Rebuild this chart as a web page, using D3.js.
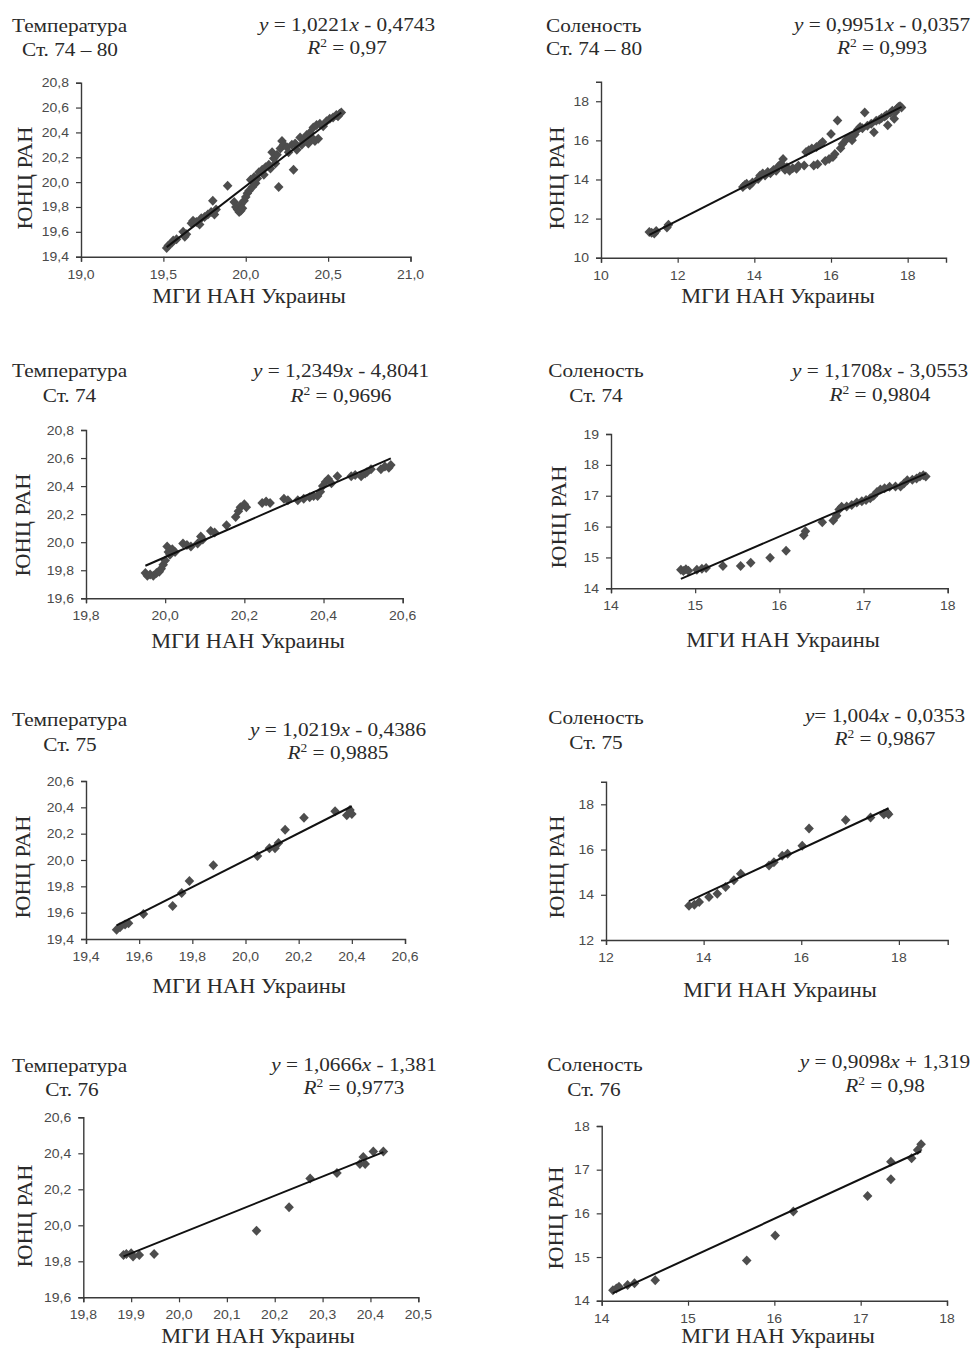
<!DOCTYPE html>
<html><head><meta charset="utf-8">
<script src="https://cdn.jsdelivr.net/npm/d3@7"></script>
<style>
html,body{margin:0;padding:0;background:#fff;}
svg{display:block;}
</style></head>
<body>
<svg id="c" width="973" height="1349"></svg>
<script>
// ---------------- DATA ----------------
const panelTitles = ["Температура","Соленость","Температура","Соленость","Температура","Соленость","Температура","Соленость"];
const stationLabels = ["Ст. 74 – 80","Ст. 74 – 80","Ст. 74","Ст. 74","Ст. 75","Ст. 75","Ст. 76","Ст. 76"];
const xAxisTitle = "МГИ НАН Украины";
const yAxisTitle = "ЮНЦ РАН";
const slopes = [1.0221, 0.9951, 1.2349, 1.1708, 1.0219, 1.004, 1.0666, 0.9098];
const intercepts = [-0.4743, -0.0357, -4.8041, -3.0553, -0.4386, -0.0353, -1.381, 1.319];
const rSquared = ["0,97","0,993","0,9696","0,9804","0,9885","0,9867","0,9773","0,98"];
const eqSpacing = [" = "," = "," = "," = "," = ","= "," = "," = "];

const xDomains = [[19,21],[10,19],[19.8,20.6],[14,18],[19.4,20.6],[12,19],[19.8,20.5],[14,18]];
const yDomains = [[19.4,20.8],[10,19],[19.6,20.8],[14,19],[19.4,20.6],[12,19],[19.6,20.6],[14,18]];
const xTicks = [
  [19.0,19.5,20.0,20.5,21.0],[10,12,14,16,18],[19.8,20.0,20.2,20.4,20.6],[14,15,16,17,18],
  [19.4,19.6,19.8,20.0,20.2,20.4,20.6],[12,14,16,18],[19.8,19.9,20.0,20.1,20.2,20.3,20.4,20.5],[14,15,16,17,18]];
const yTicks = [
  [19.4,19.6,19.8,20.0,20.2,20.4,20.6,20.8],[10,12,14,16,18],[19.6,19.8,20.0,20.2,20.4,20.6,20.8],[14,15,16,17,18,19],
  [19.4,19.6,19.8,20.0,20.2,20.4,20.6],[12,14,16,18],[19.6,19.8,20.0,20.2,20.4,20.6],[14,15,16,17,18]];
const tickDecimals = [1,0,1,0,1,0,1,0];

// scatter points [MGI, YuNTs]
const temp7480 = [[19.52,19.47],[19.53,19.49],[19.55,19.51],[19.56,19.53],[19.58,19.54],[19.62,19.60],[19.63,19.56],[19.64,19.58],[19.67,19.67],[19.68,19.69],[19.70,19.68],[19.72,19.66],[19.73,19.71],[19.75,19.72],[19.77,19.74],[19.79,19.76],[19.80,19.85],[19.81,19.74],[19.82,19.78],[19.89,19.97],[19.93,19.84],[19.94,19.80],[19.95,19.78],[19.96,19.76],[19.97,19.77],[19.97,19.82],[19.98,19.79],[19.99,19.85],[20.00,19.88],[20.01,19.91],[20.02,19.93],[20.03,20.02],[20.04,19.96],[20.05,20.04],[20.06,19.99],[20.07,20.03],[20.08,20.08],[20.10,20.10],[20.11,20.06],[20.12,20.12],[20.14,20.14],[20.15,20.11],[20.16,20.24],[20.17,20.19],[20.18,20.15],[20.19,20.22],[20.20,19.96],[20.21,20.27],[20.22,20.33],[20.23,20.30],[20.25,20.28],[20.26,20.24],[20.28,20.30],[20.29,20.10],[20.30,20.31],[20.31,20.26],[20.33,20.36],[20.34,20.30],[20.35,20.34],[20.37,20.38],[20.38,20.31],[20.39,20.40],[20.40,20.36],[20.41,20.44],[20.42,20.33],[20.43,20.46],[20.44,20.35],[20.45,20.47],[20.47,20.45],[20.49,20.49],[20.51,20.51],[20.53,20.52],[20.55,20.54],[20.56,20.53],[20.57,20.55],[20.58,20.56]];
const sal7480 = [[11.26,11.32],[11.32,11.28],[11.39,11.24],[11.44,11.36],[11.72,11.55],[11.76,11.68],[13.70,13.62],[13.75,13.72],[13.80,13.78],[13.88,13.70],[13.95,13.84],[14.10,14.02],[14.15,14.20],[14.22,14.30],[14.28,14.20],[14.35,14.38],[14.42,14.32],[14.50,14.48],[14.57,14.44],[14.63,14.68],[14.70,14.80],[14.75,15.05],[14.80,14.50],[14.85,14.62],[14.92,14.45],[15.00,14.58],[15.10,14.55],[15.15,14.70],[15.30,14.72],[15.35,15.40],[15.42,15.50],[15.50,15.58],[15.55,14.72],[15.62,15.66],[15.65,14.78],[15.72,15.80],[15.78,15.92],[15.85,14.95],[15.95,15.05],[16.00,16.33],[16.05,15.15],[16.10,15.30],[16.17,17.01],[16.25,15.60],[16.30,15.82],[16.40,16.05],[16.48,16.16],[16.55,16.00],[16.62,16.30],[16.70,16.55],[16.76,16.68],[16.82,16.62],[16.88,17.43],[16.95,16.75],[17.05,16.85],[17.12,16.42],[17.18,17.00],[17.26,17.05],[17.32,17.15],[17.40,17.22],[17.45,17.30],[17.48,16.77],[17.55,17.40],[17.60,17.52],[17.65,17.10],[17.68,17.45],[17.72,17.62],[17.76,17.70],[17.80,17.74],[17.84,17.68]];
const temp74 = [[19.950,19.78],[19.955,19.76],[19.962,19.77],[19.970,19.76],[19.978,19.78],[19.985,19.79],[19.990,19.81],[19.995,19.84],[20.000,19.87],[20.005,19.97],[20.008,19.93],[20.012,19.91],[20.018,19.95],[20.025,19.93],[20.045,19.99],[20.055,19.98],[20.065,19.97],[20.082,19.99],[20.090,20.04],[20.095,20.02],[20.115,20.08],[20.125,20.07],[20.155,20.12],[20.178,20.18],[20.185,20.22],[20.190,20.25],[20.200,20.27],[20.205,20.25],[20.245,20.28],[20.255,20.29],[20.265,20.28],[20.300,20.31],[20.310,20.30],[20.335,20.30],[20.350,20.31],[20.365,20.32],[20.375,20.33],[20.385,20.33],[20.392,20.36],[20.398,20.40],[20.405,20.43],[20.412,20.45],[20.420,20.42],[20.435,20.47],[20.470,20.47],[20.480,20.48],[20.495,20.47],[20.505,20.49],[20.510,20.50],[20.520,20.52],[20.545,20.52],[20.555,20.54],[20.565,20.53],[20.570,20.55]];
const sal74 = [[14.83,14.60],[14.86,14.56],[14.89,14.62],[14.92,14.57],[15.02,14.60],[15.08,14.63],[15.13,14.66],[15.33,14.72],[15.54,14.72],[15.66,14.83],[15.89,14.99],[16.08,15.22],[16.29,15.72],[16.31,15.85],[16.51,16.14],[16.64,16.20],[16.68,16.35],[16.71,16.55],[16.74,16.64],[16.80,16.65],[16.86,16.70],[16.92,16.78],[16.98,16.82],[17.03,16.86],[17.08,16.92],[17.12,17.00],[17.16,17.12],[17.20,17.20],[17.25,17.24],[17.31,17.29],[17.38,17.30],[17.44,17.30],[17.48,17.40],[17.52,17.50],[17.58,17.52],[17.63,17.56],[17.67,17.62],[17.71,17.66],[17.74,17.62]];
const temp75 = [[19.515,19.47],[19.528,19.49],[19.547,19.51],[19.56,19.52],[19.616,19.59],[19.726,19.65],[19.76,19.75],[19.789,19.84],[19.879,19.96],[20.045,20.03],[20.09,20.09],[20.111,20.09],[20.124,20.13],[20.149,20.23],[20.22,20.32],[20.337,20.37],[20.381,20.34],[20.393,20.38],[20.40,20.35]];
const sal75 = [[13.70,13.52],[13.81,13.56],[13.91,13.68],[14.11,13.90],[14.28,14.05],[14.45,14.34],[14.62,14.64],[14.76,14.93],[15.34,15.29],[15.44,15.44],[15.61,15.73],[15.72,15.81],[16.02,16.17],[16.16,16.93],[16.91,17.31],[17.42,17.42],[17.69,17.56],[17.76,17.64],[17.79,17.56]];
const temp76 = [[19.884,19.835],[19.89,19.84],[19.90,19.845],[19.904,19.826],[19.917,19.835],[19.948,19.84],[20.162,19.97],[20.23,20.10],[20.274,20.26],[20.33,20.29],[20.378,20.34],[20.385,20.38],[20.389,20.34],[20.406,20.41],[20.427,20.41]];
const sal76 = [[14.13,14.24],[14.17,14.28],[14.20,14.32],[14.30,14.36],[14.38,14.40],[14.62,14.47],[15.68,14.92],[16.01,15.49],[16.22,16.04],[17.08,16.40],[17.35,16.78],[17.35,17.18],[17.59,17.26],[17.66,17.45],[17.70,17.58]];
const seriesList = [temp7480, sal7480, temp74, sal74, temp75, sal75, temp76, sal76];

// ---------------- LAYOUT ----------------
const plotBoxes = [ // [left, right, top, bottom]
  [81,410.5,82.7,256.7],[601,946,81.7,257.7],
  [86,402.7,430,598.3],[611,947.7,434,588.3],
  [86,405,781,939],[606,947.7,781.7,940],
  [83.3,418.3,1117.3,1297.3],[601.7,947,1126,1300.7]];
// title: [x, anchor, baseline1, stationX, stationAnchor, baseline2]
const titlePos = [
  [12,"start",32,70,"middle",56],[546,"start",32,546,"start",55],
  [12,"start",377,69.5,"middle",402],[596,"middle",377,596,"middle",402],
  [12,"start",726,70,"middle",751],[596,"middle",724,596,"middle",749],
  [12,"start",1072,72,"middle",1096],[595,"middle",1071,594,"middle",1096]];
// equation: [centerX, baseline1, baseline2]
const eqPos = [[347,31,54],[882,31,54],[341,377,402],[880,377,401],[338,736,759],[885,722,745],[354,1071,1094],[885,1068,1092]];
// axis titles: [xCenter, xBaseline, yBaselineX, yCenter]
const axTitlePos = [[249,303,32,178],[778,303,564,178],[248,648,30,525],[783,647,566,517],[249,993,30,867],[780,997,564,867],[258,1343,32,1216],[778,1343,563,1218]];

const SX = 1.12;
const svg = d3.select("#c");
const serif = "'Liberation Serif','Times New Roman',serif";
const sans = "'Liberation Sans',Arial,sans-serif";

function txt(g, x, y, anchor, size, family, color, rot) {
  const t = g.append("text")
    .attr("transform", `translate(${x},${y})` + (rot ? ` rotate(${rot})` : "") + ` scale(${SX},1)`)
    .attr("text-anchor", anchor)
    .attr("font-size", size)
    .attr("font-family", family)
    .attr("fill", color);
  return t;
}
const fmt = (v, d) => v.toFixed(d).replace(".", ",");
const diamond = "M0,-5L4.8,0L0,5L-4.8,0Z";

seriesList.forEach((pts, i) => {
  const [L, R, T, B] = plotBoxes[i];
  const x = d3.scaleLinear().domain(xDomains[i]).range([L, R]);
  const y = d3.scaleLinear().domain(yDomains[i]).range([B, T]);
  const g = svg.append("g");

  // axes
  const xa = g.append("g").attr("transform", `translate(0,${B})`)
    .call(d3.axisBottom(x).tickValues(xTicks[i]).tickSize(5).tickPadding(0).tickFormat(() => ""));
  const ya = g.append("g").attr("transform", `translate(${L},0)`)
    .call(d3.axisLeft(y).tickValues(yTicks[i]).tickSize(5).tickFormat(() => ""));
  [xa, ya].forEach(a => {
    a.select(".domain").attr("stroke", "#3a3a3a").attr("stroke-width", 1.4);
    a.selectAll(".tick line").attr("stroke", "#3a3a3a").attr("stroke-width", 1.2);
  });
  // tick labels
  xTicks[i].forEach(v => {
    txt(g, x(v), B + 22, "middle", 12.5, sans, "#4a4a4a").text(fmt(v, tickDecimals[i]));
  });
  yTicks[i].forEach(v => {
    txt(g, L - 12, y(v) + 4.5, "end", 12.5, sans, "#4a4a4a").text(fmt(v, tickDecimals[i]));
  });

  // points
  g.append("g").selectAll("path").data(pts).join("path")
    .attr("d", diamond)
    .attr("transform", d => `translate(${x(d[0])},${y(d[1])})`)
    .attr("fill", "#4d4d4d");

  // trend line
  const xs = d3.extent(pts, d => d[0]);
  g.append("line")
    .attr("x1", x(xs[0])).attr("y1", y(slopes[i] * xs[0] + intercepts[i]))
    .attr("x2", x(xs[1])).attr("y2", y(slopes[i] * xs[1] + intercepts[i]))
    .attr("stroke", "#111").attr("stroke-width", 2);

  // titles
  const tp = titlePos[i];
  txt(g, tp[0], tp[2], tp[1], 19, serif, "#2a2a2a").text(panelTitles[i]);
  txt(g, tp[3], tp[5], tp[4], 19, serif, "#2a2a2a").text(stationLabels[i]);

  // equation
  const ep = eqPos[i];
  const e1 = txt(g, ep[0], ep[1], "middle", 19, serif, "#2a2a2a");
  e1.append("tspan").attr("font-style", "italic").text("y");
  const b = intercepts[i];
  e1.append("tspan").text(eqSpacing[i] + String(slopes[i]).replace(".", ","));
  e1.append("tspan").attr("font-style", "italic").text("x");
  e1.append("tspan").text((b < 0 ? " - " : " + ") + String(Math.abs(b)).replace(".", ","));
  const e2 = txt(g, ep[0], ep[2], "middle", 19, serif, "#2a2a2a");
  e2.append("tspan").attr("font-style", "italic").text("R");
  e2.append("tspan").attr("font-size", 12).attr("dy", -7).text("2");
  e2.append("tspan").attr("dy", 7).text(" = " + rSquared[i]);

  // axis titles
  const ap = axTitlePos[i];
  txt(g, ap[0], ap[1], "middle", 20, serif, "#2a2a2a").text(xAxisTitle);
  txt(g, ap[2], ap[3], "middle", 20, serif, "#2a2a2a", -90).text(yAxisTitle);
});
</script>
</body></html>
